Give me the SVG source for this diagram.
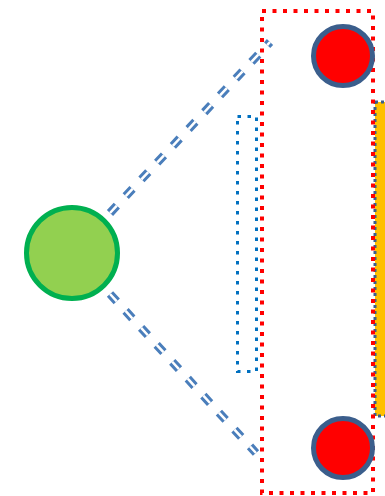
<svg xmlns="http://www.w3.org/2000/svg" width="385" height="496" viewBox="0 0 385 496">
<style>
.conn-outer{fill:none;stroke:#4A7EBB;stroke-width:8.5;stroke-dasharray:10 13}
.conn-inner{fill:none;stroke:#FFFFFF;stroke-width:2.5;stroke-dasharray:10 13}
.red-node{fill:#FF0000;stroke:#3B5E8C;stroke-width:5}
</style>
<rect width="385" height="496" fill="#FFFFFF"/>
<g id="bar">
<rect x="375" y="102" width="14" height="314" fill="#FFC000" stroke="#3B5E8C" stroke-width="3" stroke-dasharray="3 3"/>
</g>
<g id="group-box">
<rect x="262" y="11" width="111" height="482" fill="none" stroke="#FF0000" stroke-width="4" stroke-dasharray="4 6.5"/>
</g>
<g id="inner-box">
<rect x="237.5" y="116.5" width="19" height="255" fill="none" stroke="#0070C0" stroke-width="3" stroke-dasharray="3.5 6.5"/>
</g>
<g id="connectors">
<path class="conn-outer" d="M110,213 L270,42"/>
<path class="conn-inner" d="M110,213 L270,42"/>
<path class="conn-outer" d="M110,294 L256,453"/>
<path class="conn-inner" d="M110,294 L256,453"/>
</g>
<g id="source">
<circle cx="72" cy="253" r="45.5" fill="#92D050" stroke="#00B050" stroke-width="5"/>
</g>
<g id="top-node">
<circle cx="343" cy="56" r="29.5" class="red-node"/>
</g>
<g id="bottom-node">
<circle cx="343" cy="448" r="29.5" class="red-node"/>
</g>
</svg>
